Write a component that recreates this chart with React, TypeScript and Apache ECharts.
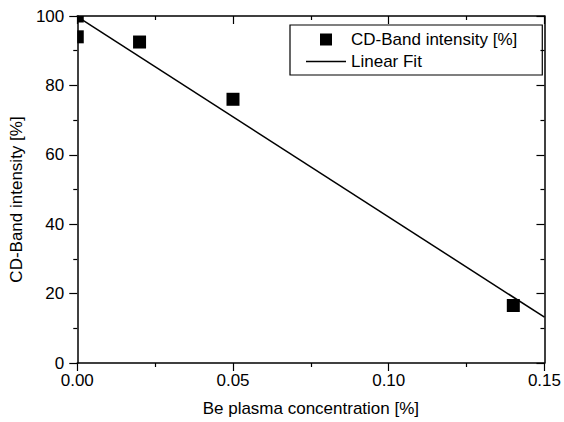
import React, { useEffect, useRef } from "react";
import * as echarts from "echarts";

const xTickLabels = ["0.00", "0.05", "0.10", "0.15"];
const yTickLabels = ["0", "20", "40", "60", "80", "100"];
const concentration = [0, 0, 0.02, 0.05, 0.14];
const intensity = [100, 94, 92.5, 76, 16.6];
const fitX = [0, 0.15];
const fitY = [99.8, 13.2];

const FONT = "'Liberation Sans', Arial, sans-serif";
const SQ = 13;

export default function App() {
  const ref = useRef<HTMLDivElement>(null);
  useEffect(() => {
    document.body.style.margin = "0";
    if (!ref.current) return;
    const chart = echarts.init(ref.current, null, { renderer: "svg" });
    const axisLine = { show: true, onZero: false, lineStyle: { color: "#000", width: 1.5 } };
    const baseX = {
      type: "value" as const,
      min: 0,
      max: 0.15,
      interval: 0.05,
      splitLine: { show: false },
      axisLine,
      minorTick: { show: true, splitNumber: 2, length: 4, lineStyle: { color: "#000", width: 1.2 } },
    };
    const baseY = {
      type: "value" as const,
      min: 0,
      max: 100,
      interval: 20,
      splitLine: { show: false },
      axisLine,
      minorTick: { show: true, splitNumber: 2, length: 4, lineStyle: { color: "#000", width: 1.2 } },
    };
    chart.setOption({
      animation: false,
      backgroundColor: "#fff",
      textStyle: { fontFamily: FONT },
      grid: { left: 75, right: 17, top: 16, bottom: 59, containLabel: false },
      legend: {
        orient: "vertical",
        left: 290,
        top: 25,
        padding: [6, 25, 5, 16],
        itemGap: 5,
        itemWidth: 40,
        itemHeight: 12,
        symbolKeepAspect: true,
        borderColor: "#000",
        borderWidth: 1.2,
        textStyle: { fontSize: 17, color: "#000", fontFamily: FONT },
        data: [
          { name: "CD-Band intensity [%]", icon: "path://M0,0H12V12H0Z", itemStyle: { color: "#000", opacity: 1 } },
          { name: "Linear Fit", icon: "path://M0,0H40V1.5H0Z", itemStyle: { color: "#000" } },
        ],
      },
      xAxis: [
        {
          ...baseX,
          position: "bottom",
          name: "Be plasma concentration [%]",
          nameLocation: "middle",
          nameGap: 37,
          nameTextStyle: { fontSize: 17, color: "#000", fontFamily: FONT },
          axisTick: { show: true, inside: false, length: 8, lineStyle: { color: "#000", width: 1.2 } },
          axisLabel: {
            fontSize: 17,
            color: "#000",
            margin: 9,
            fontFamily: FONT,
            formatter: (v: number) => xTickLabels[Math.round(v / 0.05)] ?? "",
          },
        },
        {
          ...baseX,
          position: "top",
          axisTick: { show: true, inside: true, length: 8, lineStyle: { color: "#000", width: 1.2 } },
          axisLabel: { show: false },
        },
      ],
      yAxis: [
        {
          ...baseY,
          position: "left",
          name: "CD-Band intensity [%]",
          nameLocation: "middle",
          nameGap: 50,
          nameTextStyle: { fontSize: 17, color: "#000", fontFamily: FONT, padding: [0, 20, 0, 0] },
          axisTick: { show: true, inside: false, length: 8, lineStyle: { color: "#000", width: 1.2 } },
          axisLabel: {
            fontSize: 17,
            color: "#000",
            margin: 13,
            fontFamily: FONT,
            formatter: (v: number) => yTickLabels[Math.round(v / 20)] ?? "",
          },
        },
        {
          ...baseY,
          position: "right",
          axisTick: { show: true, inside: true, length: 8, lineStyle: { color: "#000", width: 1.2 } },
          axisLabel: { show: false },
        },
      ],
      series: [
        {
          name: "CD-Band intensity [%]",
          type: "custom",
          itemStyle: { color: "#000" },
          encode: { x: 0, y: 1 },
          data: concentration.map((x, i) => [x, intensity[i]]),
          renderItem: (params: any, api: any) => {
            const p = api.coord([api.value(0), api.value(1)]);
            const shape = echarts.graphic.clipRectByRect(
              { x: p[0] - SQ / 2, y: p[1] - SQ / 2, width: SQ, height: SQ },
              params.coordSys
            );
            if (!shape) return null;
            return { type: "rect", shape, style: { fill: "#000" } };
          },
          z: 3,
        },
        {
          name: "Linear Fit",
          type: "line",
          symbol: "none",
          showSymbol: false,
          clip: true,
          lineStyle: { color: "#000", width: 1.5 },
          itemStyle: { color: "#000" },
          data: fitX.map((x, i) => [x, fitY[i]]),
          z: 2,
        },
      ],
    });
    return () => chart.dispose();
  }, []);
  return <div ref={ref} style={{ width: 564, height: 422 }} />;
}
